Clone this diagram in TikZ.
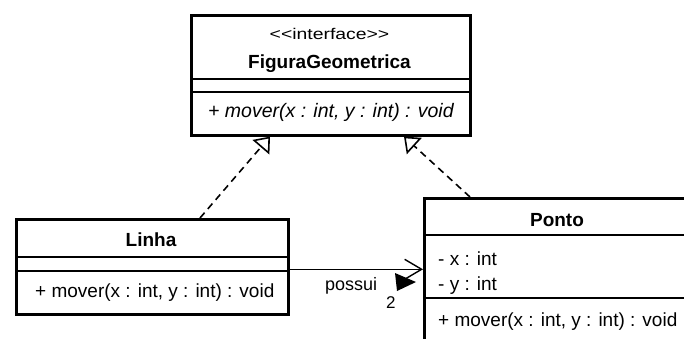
\documentclass[tikz,border=0pt]{standalone}
\usepackage{fontspec}
\setmainfont{Liberation Sans}
\newfontfamily\stereofont[FakeStretch=1.25]{Liberation Sans}
\usetikzlibrary{arrows.meta}

\begin{document}
\begin{tikzpicture}[x=1pt,y=-1pt,
  classbox/.style={draw, line width=2.6pt, inner sep=0pt, anchor=north west, fill=white},
  divider/.style={line width=1.3pt},
  txt/.style={inner sep=0pt, font=\fontsize{19}{22}\selectfont},
  classname/.style={txt, anchor=base, font=\fontsize{19}{22}\selectfont\bfseries},
  member/.style={txt, anchor=base west},
  stereo/.style={inner sep=0pt, anchor=base, font=\fontsize{15.5}{18}\stereofont},
  realize/.style={line width=1.6pt, dash pattern=on 7pt off 5pt,
    -{Triangle[open, length=14pt, width=22pt, line width=1.6pt]}},
  assoc/.style={line width=1.4pt, -{Straight Barb[length=17pt, width=20pt, line width=1.4pt]}},
  assoclabel/.style={inner sep=0pt, anchor=base west, font=\fontsize{18}{20}\selectfont}
]
\useasboundingbox (0,0) rectangle (684,338);
\fill[white] (0,0) rectangle (684,338);
\clip (0,0) rectangle (684,338);

% interface FiguraGeometrica
\node[classbox, minimum width=279pt, minimum height=120pt] (iface) at (190,14) {};
\draw[divider] (190,79) -- (469,79);
\draw[divider] (190,92) -- (469,92);
\node[stereo] (ifaceStereo) at (329.5,39) {<<interface>>};
\node[classname] (ifaceName) at (329.5,68) {FiguraGeometrica};
\node[member, font=\fontsize{19.5}{22}\selectfont\itshape] (ifaceOp) at (208,117)
  {+ mover(x : int, y : int) : void};

% class Linha
\node[classbox, minimum width=272pt, minimum height=95pt] (linha) at (15,218) {};
\draw[divider] (15,257) -- (287,257);
\draw[divider] (15,271) -- (287,271);
\node[classname] (linhaName) at (151,246.5) {Linha};
\node[member] (linhaOp) at (35,297) {+ mover(x : int, y : int) : void};

% class Ponto
\node[classbox, minimum width=268pt, minimum height=153pt] (ponto) at (423,197) {};
\draw[divider] (423,235) -- (691,235);
\draw[divider] (423,298) -- (691,298);
\node[classname] (pontoName) at (557,226) {Ponto};
\node[member] (pontoX) at (438,265) {- x : int};
\node[member] (pontoY) at (438,290) {- y : int};
\node[member] (pontoOp) at (438,326.5) {+ mover(x : int, y : int) : void};

% realizations
\draw[realize] ([xshift=185pt]linha.north west) -- ([xshift=80pt]iface.south west);
\draw[realize] ([xshift=47pt]ponto.north west) -- ([xshift=214pt]iface.south west);

% association Linha -> Ponto
\coordinate (assocStart) at ([yshift=-2.5pt]linha.east);
\draw[assoc] (assocStart) -- (assocStart -| ponto.west);
\node[assoclabel] (assocName) at (325,290) {possui};
\fill (395,273) -- (416,282) -- (397,291) -- cycle;
\node[assoclabel, font=\fontsize{17}{20}\selectfont] (assocMult) at (386,308) {2};
\end{tikzpicture}
\end{document}
